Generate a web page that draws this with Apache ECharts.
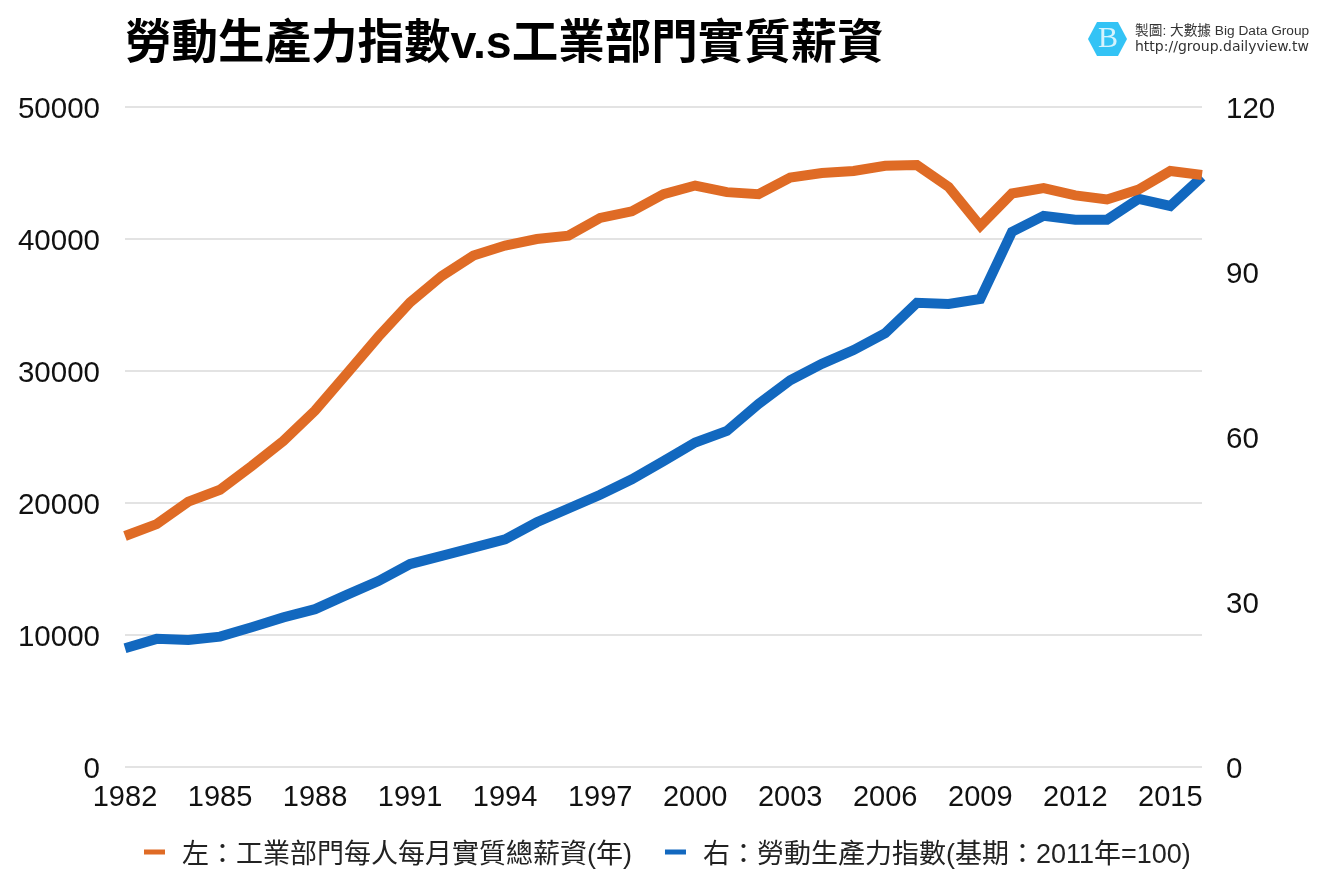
<!DOCTYPE html>
<html><head><meta charset="utf-8">
<style>html,body{margin:0;padding:0;background:#fff}#c{width:1326px;height:882px}</style>
<script src="https://cdn.jsdelivr.net/npm/echarts@6/dist/echarts.min.js"></script>
</head><body><div id="c"></div>
<script>
const years = [1982,1983,1984,1985,1986,1987,1988,1989,1990,1991,1992,1993,1994,1995,1996,1997,1998,1999,2000,2001,2002,2003,2004,2005,2006,2007,2008,2009,2010,2011,2012,2013,2014,2015,2016];
const wages = [17500,18400,20100,21000,22800,24700,27000,29800,32600,35200,37200,38750,39500,40000,40250,41600,42100,43400,44050,43550,43400,44650,45000,45150,45550,45600,43950,41000,43450,43850,43300,43000,43750,45150,44850];
const productivity = [21.6,23.3,23.1,23.7,25.4,27.2,28.7,31.3,33.8,36.9,38.4,39.9,41.4,44.5,47,49.5,52.3,55.6,59,61.1,66,70.3,73.3,75.8,78.9,84.4,84.2,85.1,97.3,100.2,99.5,99.5,103.3,102,107.3];
const wageName = '左：工業部門每人每月實質總薪資(年)';
const prodName = '右：勞動生產力指數(基期：2011年=100)';
const titleText = '勞動生產力指數v.s工業部門實質薪資';
const logoLine1 = '製圖: 大數據 Big Data Group';
const logoLine2 = 'http://group.dailyview.tw';
const latin = '"Liberation Sans","Noto Sans CJK TC",sans-serif';
const chart = echarts.init(document.getElementById('c'), null, {renderer:'canvas'});
chart.setOption({
  animation:false,
  backgroundColor:'#fff',
  textStyle:{fontFamily:latin},
  title:{text:titleText,left:125,top:22,padding:0,textStyle:{fontFamily:latin,fontSize:46.5,fontWeight:'bold',color:'#000'}},
  grid:{left:125,right:124,top:107,bottom:115,containLabel:false},
  legend:{
    bottom:13,left:144,padding:0,itemGap:33,itemWidth:21,itemHeight:12,icon:'path://M0 0H21V5H0ZM0 12H21V12H0Z',
    itemStyle:{borderWidth:0},
    textStyle:{fontSize:27,color:'#222',fontFamily:latin,padding:[0,0,0,12]},
    data:[wageName,prodName]
  },
  xAxis:{type:'category',boundaryGap:false,data:years,
    axisLine:{show:false},axisTick:{show:false},
    axisLabel:{interval:(i)=>i%3===0,fontSize:29,color:'#111',margin:16,hideOverlap:false}},
  yAxis:[
    {type:'value',min:0,max:50000,interval:10000,axisLine:{show:false},axisTick:{show:false},
      axisLabel:{fontSize:29.5,color:'#111',margin:25,verticalAlign:'top',lineHeight:6,formatter:(v)=>String(v)},splitLine:{lineStyle:{color:'#e3e3e3',width:2}}},
    {type:'value',min:0,max:120,interval:30,position:'right',axisLine:{show:false},axisTick:{show:false},
      axisLabel:{fontSize:29.5,color:'#111',margin:24,verticalAlign:'top',lineHeight:6},splitLine:{show:false}}
  ],
  series:[
    {name:wageName,type:'line',yAxisIndex:0,data:wages,showSymbol:false,symbol:'none',z:3,itemStyle:{color:'#DF6B25'},lineStyle:{width:10,color:'#DF6B25',join:'miter'}},
    {name:prodName,type:'line',yAxisIndex:1,data:productivity,showSymbol:false,symbol:'none',z:2,itemStyle:{color:'#1268BF'},lineStyle:{width:10,color:'#1268BF',join:'miter'}}
  ],
  graphic:[
    {type:'polygon',shape:{points:[[1097,22],[1118,22],[1127,39],[1118,56],[1097,56],[1088,39]]},style:{fill:'#33C3F5'}},
    {type:'text',x:1108,y:39,style:{text:'B',fontSize:30,fontFamily:'"Liberation Serif",serif',fill:'#d5f3fd',align:'center',verticalAlign:'middle'}},
    {type:'text',x:1135,y:31,style:{text:logoLine1,fontSize:13.7,fontFamily:latin,fill:'#333',verticalAlign:'middle'}},
    {type:'text',x:1135,y:47,style:{text:logoLine2,fontSize:14,fontFamily:'"DejaVu Sans",sans-serif',fill:'#333',verticalAlign:'middle'}}
  ]
});
</script></body></html>
